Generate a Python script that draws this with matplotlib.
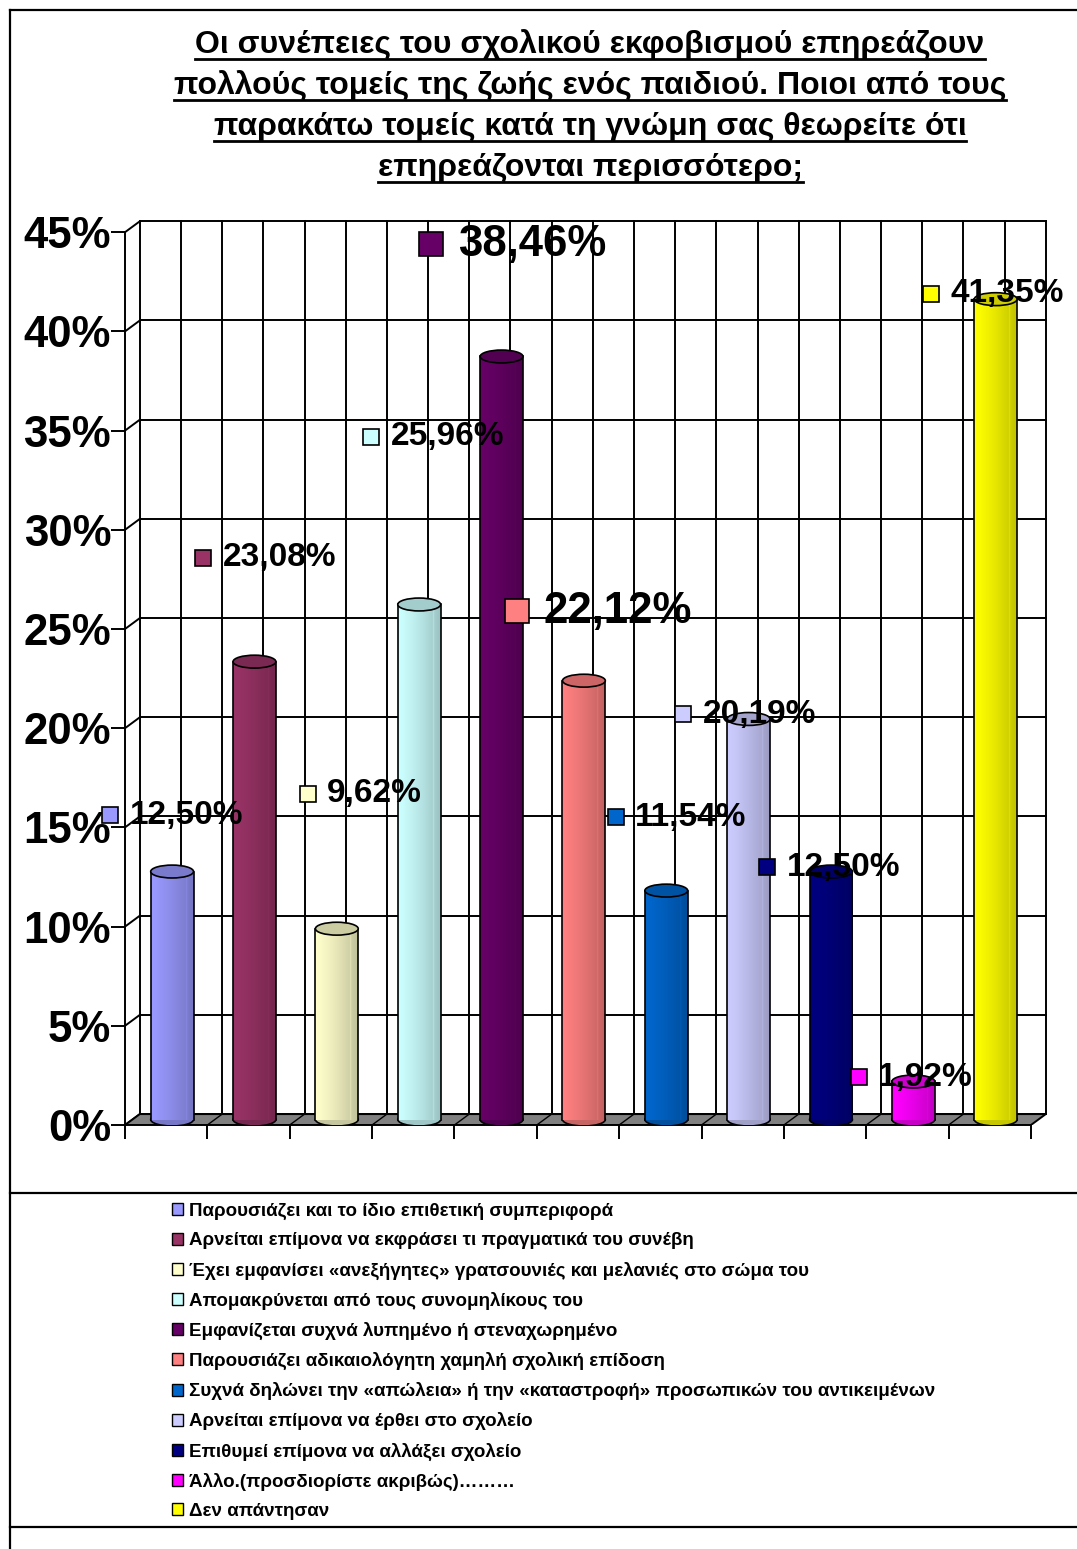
import matplotlib
matplotlib.use("Agg")
import numpy as np
import matplotlib.pyplot as plt
from matplotlib.patches import Ellipse, Polygon, Patch
from matplotlib.colors import to_rgb
from matplotlib.lines import Line2D

plt.rcParams['font.family'] = ['Liberation Sans', 'DejaVu Sans']

title_lines = [
    "Οι συνέπειες του σχολικού εκφοβισμού επηρεάζουν",
    "πολλούς τομείς της ζωής ενός παιδιού. Ποιοι από τους",
    "παρακάτω τομείς κατά τη γνώμη σας θεωρείτε ότι",
    "επηρεάζονται περισσότερο;",
]

categories = [
    "Παρουσιάζει και το ίδιο επιθετική συμπεριφορά",
    "Αρνείται επίμονα να εκφράσει τι πραγματικά του συνέβη",
    "Έχει εμφανίσει «ανεξήγητες» γρατσουνιές και μελανιές στο σώμα του",
    "Απομακρύνεται από τους συνομηλίκους του",
    "Εμφανίζεται συχνά λυπημένο ή στεναχωρημένο",
    "Παρουσιάζει αδικαιολόγητη χαμηλή σχολική επίδοση",
    "Συχνά δηλώνει την «απώλεια» ή την «καταστροφή» προσωπικών του αντικειμένων",
    "Αρνείται επίμονα να έρθει στο σχολείο",
    "Επιθυμεί επίμονα να αλλάξει σχολείο",
    "Άλλο.(προσδιορίστε ακριβώς)………",
    "Δεν απάντησαν",
]
values = [12.50, 23.08, 9.62, 25.96, 38.46, 22.12, 11.54, 20.19, 12.50, 1.92, 41.35]
value_labels = ["12,50%", "23,08%", "9,62%", "25,96%", "38,46%", "22,12%",
                "11,54%", "20,19%", "12,50%", "1,92%", "41,35%"]
colors = ["#9999FF", "#993366", "#FFFFCC", "#CCFFFF", "#660066", "#FF8080",
          "#0066CC", "#CCCCFF", "#000080", "#FF00FF", "#FFFF00"]
yticks = [0, 5, 10, 15, 20, 25, 30, 35, 40, 45]

# where the data labels were dragged to (x in categories, y in %)
label_x = [-0.18, 0.95, 2.22, 2.99, 3.72, 4.76, 5.96, 6.78, 7.80, 8.91, 9.79]
label_y = [15.6, 28.6, 16.7, 34.7, 44.4, 25.9, 15.5, 20.7, 13.0, 2.4, 41.9]
label_big = [False, False, False, False, True, True, False, False, False, False, False]

W, H = 1077, 1549
fig = plt.figure(figsize=(W / 100, H / 100), dpi=100)

# plot area: front plane origin at pixel (125, 1125)
px_cat, px_pct = 82.36, 19.84
x0_px, y0_px = 125, 1125
xmax, ymax = 11.45, 46.5
ax = fig.add_axes([x0_px / W, (H - y0_px) / H,
                   xmax * px_cat / W, ymax * px_pct / H])
ax.set_xlim(0, xmax)
ax.set_ylim(0, ymax)
ax.patch.set_visible(False)

n = len(values)
dx, dy = 0.18, 0.55   # depth offset of the back wall
lw = 1.4

# back wall grid
for k in range(2 * n + 1):
    ax.plot([dx + k * 0.5] * 2, [dy, 45 + dy], color='black', lw=lw, zorder=1)
for v in yticks:
    ax.plot([dx, n + dx], [v + dy, v + dy], color='black', lw=lw, zorder=1)
    ax.plot([0, dx], [v, v + dy], color='black', lw=lw, zorder=1)

# floor
ax.add_patch(Polygon([(0, 0), (n, 0), (n + dx, dy), (dx, dy)], closed=True,
                     facecolor='#808080', edgecolor='black', lw=lw, zorder=2))
for k in range(1, n):
    ax.plot([k, k + dx], [0, dy], color='black', lw=1.0, zorder=2)

# cylinders
bw = 0.52
base = dy * 0.5
eh = 0.65
for i, (v, c) in enumerate(zip(values, colors)):
    xc = i + 0.5 + dx * 0.4
    rgb = np.array(to_rgb(c))
    dark = rgb * 0.78
    ax.add_patch(Ellipse((xc, base), bw, eh, facecolor=dark, edgecolor='black',
                         lw=1.2, zorder=3))
    bar = ax.bar(xc, v, width=bw, bottom=base, color=c, lw=0, zorder=4)[0]
    t = np.linspace(0, 1, 64)
    shade = 1.0 - 0.24 * t ** 1.3
    shade[int(0.82 * 64):int(0.85 * 64)] += 0.06
    grad = np.clip(rgb[None, None, :] * shade[None, :, None], 0, 1)
    ax.imshow(grad, extent=[bar.get_x(), bar.get_x() + bar.get_width(),
                            bar.get_y(), bar.get_y() + bar.get_height()],
              aspect='auto', interpolation='bilinear', zorder=4)
    ax.plot([xc - bw / 2] * 2, [base, base + v], color='black', lw=1.2, zorder=5)
    ax.plot([xc + bw / 2] * 2, [base, base + v], color='black', lw=1.2, zorder=5)
    ax.add_patch(Ellipse((xc, base + v), bw, eh, facecolor=rgb * 0.8,
                         edgecolor='black', lw=1.2, zorder=6))

# data labels with legend keys
for lx, ly, txt, c, big in zip(label_x, label_y, value_labels, colors, label_big):
    ax.plot(lx, ly, marker='s', markersize=17 if big else 12, markerfacecolor=c,
            markeredgecolor='black', markeredgewidth=1.2, clip_on=False, zorder=10)
    ax.annotate(txt, (lx, ly), xytext=(19 if big else 14, 0),
                textcoords='offset points', ha='left', va='center',
                fontsize=31.5 if big else 24, fontweight='bold',
                annotation_clip=False, zorder=10)

# axes
for s in ['top', 'right']:
    ax.spines[s].set_visible(False)
ax.spines['left'].set_bounds(0, 45)
ax.spines['bottom'].set_bounds(0, n)
ax.spines['left'].set_linewidth(lw)
ax.spines['bottom'].set_linewidth(lw)
ax.spines['left'].set_zorder(2)
ax.spines['bottom'].set_zorder(2)
ax.set_yticks(yticks)
ax.set_yticklabels([f"{v}%" for v in yticks], fontsize=31.5, fontweight='bold')
ax.set_xticks(range(n + 1))
ax.tick_params(axis='x', length=10, width=lw, labelbottom=False)
ax.tick_params(axis='y', length=10, width=lw, pad=0)

# title, underlined
title_texts = []
for j, line in enumerate(title_lines):
    t = fig.text(590 / W, 1 - (45 + j * 41) / H, line, ha='center', va='center',
                 fontsize=23, fontweight='bold')
    title_texts.append(t)

# legend
handles = [Patch(facecolor=c, edgecolor='black', lw=1.0) for c in colors]
fig.legend(handles, categories, loc='upper left',
           bbox_to_anchor=(172 / W, 1 - 1203 / H), frameon=False,
           prop={'weight': 'bold', 'size': 13.5},
           handlelength=0.6, handleheight=0.6, handletextpad=0.3,
           labelspacing=0.645, borderpad=0, borderaxespad=0)

# chart frame and legend box lines
fig.add_artist(Line2D([10 / W, 10 / W], [0, 1 - 10 / H], color='black', lw=1.6))
fig.add_artist(Line2D([10 / W, 1], [1 - 10 / H, 1 - 10 / H], color='black', lw=1.6))
fig.add_artist(Line2D([10 / W, 1], [1 - 1193 / H, 1 - 1193 / H], color='black', lw=1.6))
fig.add_artist(Line2D([10 / W, 1], [1 - 1527 / H, 1 - 1527 / H], color='black', lw=1.6))

fig.canvas.draw()
renderer = fig.canvas.get_renderer()
for t in title_texts:
    bb = t.get_window_extent(renderer)
    yline = (bb.y0 + 1) / H
    fig.add_artist(Line2D([bb.x0 / W, bb.x1 / W], [yline, yline],
                          color='black', lw=2))

fig.savefig("out.png", dpi=100)
